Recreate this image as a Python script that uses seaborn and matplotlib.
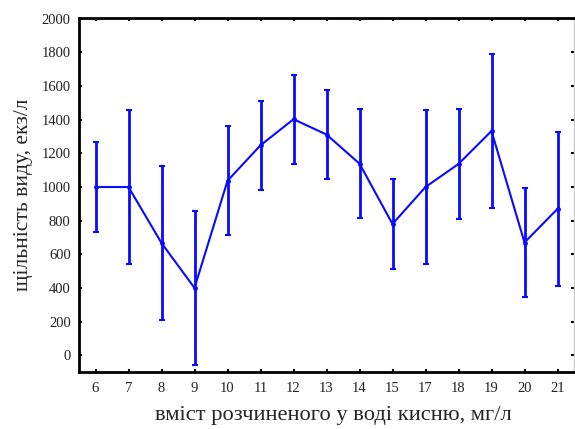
import matplotlib
matplotlib.use("Agg")
import matplotlib.pyplot as plt
import seaborn as sns
import numpy as np

categories = ["6", "7", "8", "9", "10", "11", "12", "13", "14", "15", "17", "18", "19", "20", "21"]
means = [1000, 1000, 667, 400, 1037, 1248, 1403, 1312, 1139, 780, 1000, 1137, 1333, 670, 870]
errors = [265, 457, 458, 458, 323, 265, 264, 265, 325, 265, 458, 325, 458, 325, 458]
yticks = [0, 200, 400, 600, 800, 1000, 1200, 1400, 1600, 1800, 2000]

sns.set_style("ticks")
plt.rcParams['font.family'] = ['Liberation Serif', 'DejaVu Serif']

fig = plt.figure(figsize=(5.75, 4.29), dpi=100)
ax = fig.add_axes([79/575, (429-372)/429, (574-79)/575, (372-18)/429])

pos = np.arange(len(categories))
color = "#0a0aff"
ax.errorbar(pos, means, yerr=errors, fmt='none', ecolor=color, elinewidth=2.0,
            capsize=2.2, capthick=1.5, zorder=2)
sns.lineplot(x=pos, y=means, ax=ax, color=color, linewidth=1.5, marker='o',
             markersize=3.5, markeredgewidth=0, zorder=3)

ax.set_xlim(-0.5, len(categories) - 0.5)
ax.set_ylim(-100, 2005)
ax.set_xticks(pos)
ax.set_xticklabels(categories)
ax.set_yticks(yticks)
ax.tick_params(direction='in', length=2.5, width=1.5, labelsize=10.5,
               top=True, right=True, colors='black', labelcolor='#222222')
ax.tick_params(axis='x', pad=7)
ax.tick_params(axis='y', pad=6)

for s in ['left', 'bottom', 'top']:
    ax.spines[s].set_linewidth(2.0)
    ax.spines[s].set_color('black')
ax.spines['right'].set_linewidth(1.0)
ax.spines['right'].set_color('#cccccc')

ax.set_xlabel("вміст розчиненого у воді кисню, мг/л", fontsize=16.2, labelpad=8)
ax.xaxis.label.set_x(0.513)
ax.set_ylabel("щільність виду, екз/л", fontsize=15.5, labelpad=6)

fig.savefig("out.png", dpi=100)
